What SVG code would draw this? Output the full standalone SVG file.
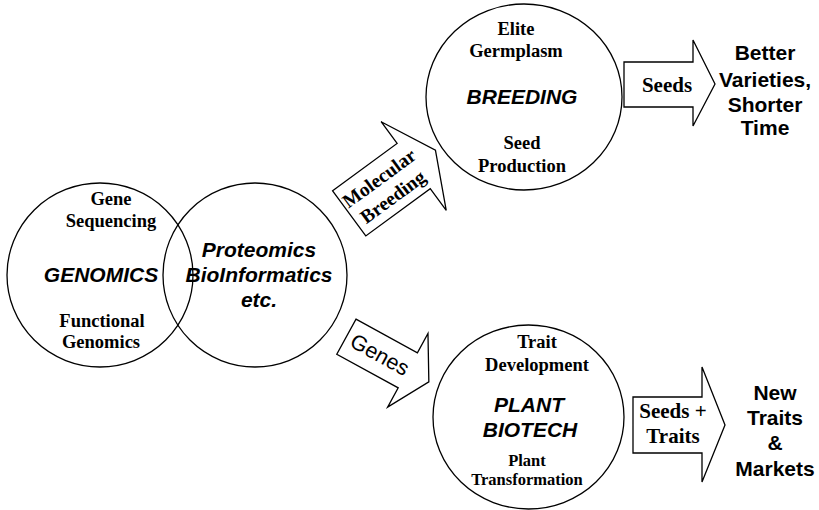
<svg xmlns="http://www.w3.org/2000/svg" width="819" height="510" viewBox="0 0 819 510">
<style>
.c{fill:none;stroke:#000;stroke-width:1.3}
.a{fill:#fff;stroke:#000;stroke-width:1.3;stroke-linejoin:miter}
.s{font-family:"Liberation Serif","Times New Roman",serif;font-weight:bold;text-anchor:middle;fill:#000}
.h{font-family:"Liberation Sans",Arial,sans-serif;font-weight:bold;font-style:italic;text-anchor:middle;fill:#000;font-size:21px}
.o{font-family:"Liberation Sans",Arial,sans-serif;font-weight:bold;text-anchor:middle;fill:#000;font-size:21px}
.g{font-family:"Liberation Sans",Arial,sans-serif;text-anchor:middle;fill:#000;font-size:21.5px}
</style>
<rect width="819" height="510" fill="#fff"/>
<g id="genomics">
<ellipse class="c" cx="100" cy="275" rx="93" ry="92"/>
<text class="s" font-size="18.5" x="111" y="205">Gene</text>
<text class="s" font-size="18.5" x="111" y="227">Sequencing</text>
<text class="h" x="101" y="282">GENOMICS</text>
<text class="s" font-size="18.5" x="102" y="327">Functional</text>
<text class="s" font-size="18.5" x="101" y="348">Genomics</text>
</g>
<g id="proteomics">
<ellipse class="c" cx="255" cy="275" rx="92" ry="92"/>
<text class="h" x="259" y="257">Proteomics</text>
<text class="h" x="259" y="282">BioInformatics</text>
<text class="h" x="259" y="307">etc.</text>
</g>
<g id="breeding">
<ellipse class="c" cx="524" cy="97" rx="98" ry="93"/>
<text class="s" font-size="18.5" x="516" y="35">Elite</text>
<text class="s" font-size="18.5" x="516" y="57">Germplasm</text>
<text class="h" x="522" y="104">BREEDING</text>
<text class="s" font-size="18.5" x="522" y="149">Seed</text>
<text class="s" font-size="18.5" x="522" y="172">Production</text>
</g>
<g id="biotech">
<ellipse class="c" cx="528.5" cy="417" rx="95.5" ry="92"/>
<text class="s" font-size="18.5" x="537" y="348">Trait</text>
<text class="s" font-size="18.5" x="537" y="371">Development</text>
<text class="h" x="529" y="412">PLANT</text>
<text class="h" x="530" y="437">BIOTECH</text>
<text class="s" font-size="16.5" x="527" y="466">Plant</text>
<text class="s" font-size="16.5" x="527" y="485">Transformation</text>
</g>
<g id="connectors">
<g id="molecular-breeding" transform="translate(349.2,213.4) rotate(-36.3)">
<polygon class="a" points="0,-28 80,-28 80,-55 107,0 80,55 80,28 0,28"/>
<text class="s" font-size="19.5" x="45" y="-4">Molecular</text>
<text class="s" font-size="19.5" x="45" y="19">Breeding</text>
</g>
<g id="genes" transform="translate(346.4,336.7) rotate(28.7)">
<polygon class="a" points="0,-20 70,-20 70,-42 94,0 70,42 70,20 0,20"/>
<text class="g" x="38" y="7">Genes</text>
</g>
<g id="seeds">
<polygon class="a" points="624,62 693,62 693,40 715,84 693,126 693,107 624,107"/>
<text class="s" font-size="21" x="667" y="92">Seeds</text>
</g>
<g id="seeds-traits">
<polygon class="a" points="633,397 702,397 702,367 725,425 702,482 702,453 633,453"/>
<text class="s" font-size="21" x="673" y="418">Seeds +</text>
<text class="s" font-size="21" x="673" y="443">Traits</text>
</g>
</g>
<g id="better-varieties">
<text class="o" x="765" y="60">Better</text>
<text class="o" x="765" y="87">Varieties,</text>
<text class="o" x="765" y="112">Shorter</text>
<text class="o" x="765" y="135">Time</text>
</g>
<g id="new-traits">
<text class="o" x="775" y="400">New</text>
<text class="o" x="775" y="425">Traits</text>
<text class="o" x="775" y="450">&amp;</text>
<text class="o" x="775" y="476">Markets</text>
</g>
</svg>
